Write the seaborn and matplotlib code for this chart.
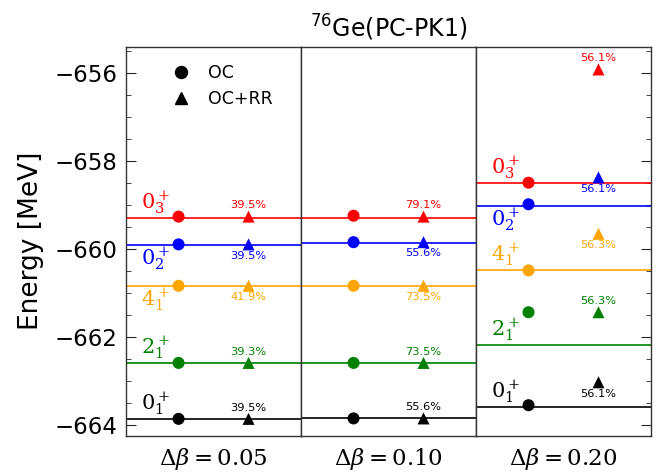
import pandas as pd
import seaborn as sns
import matplotlib.pyplot as plt
from matplotlib.lines import Line2D
from matplotlib.ticker import MultipleLocator

# data
delta_beta = ['0.05', '0.10', '0.20']
states = ['0_1', '2_1', '4_1', '0_2', '0_3']
state_labels = [r'$0_1^+$', r'$2_1^+$', r'$4_1^+$', r'$0_2^+$', r'$0_3^+$']
state_colors = ['black', 'green', 'orange', 'blue', 'red']

e_oc = [
    [-663.86, -662.59, -660.84, -659.90, -659.27],
    [-663.85, -662.59, -660.84, -659.85, -659.25],
    [-663.55, -661.44, -660.49, -658.99, -658.50],
]
e_rr = [
    [-663.86, -662.59, -660.84, -659.90, -659.27],
    [-663.85, -662.59, -660.84, -659.85, -659.27],
    [-663.03, -661.44, -659.66, -658.38, -655.93],
]
e_line = [
    [-663.86, -662.60, -660.85, -659.92, -659.31],
    [-663.85, -662.59, -660.85, -659.87, -659.31],
    [-663.59, -662.19, -660.49, -659.03, -658.50],
]
weights = [
    ['39.5%', '39.3%', '41.9%', '39.5%', '39.5%'],
    ['55.6%', '73.5%', '73.5%', '55.6%', '79.1%'],
    ['56.1%', '56.3%', '56.3%', '56.1%', '56.1%'],
]

# label placement (+1 above, -1 below)
pct_side = [
    [1, 1, -1, -1, 1],
    [1, 1, -1, -1, 1],
    [-1, 1, -1, -1, 1],
]
lab_side = {0: [1, 1, -1, -1, 1], 2: [1, 1, 1, -1, 1]}

x_oc, x_rr = 0.3, 0.7

sns.set_style('ticks')
plt.rcParams['mathtext.fontset'] = 'dejavuserif'
plt.rcParams['text.color'] = 'black'
plt.rcParams['axes.labelcolor'] = 'black'
palette = dict(zip(states, state_colors))

fig, axes = plt.subplots(1, 3, sharey=True, figsize=(6.67, 4.75), dpi=100)
fig.subplots_adjust(left=0.189, right=0.976, top=0.902, bottom=0.082, wspace=0)

for i, ax in enumerate(axes):
    df = pd.DataFrame({
        'x': [x_oc] * 5 + [x_rr] * 5,
        'E': e_oc[i] + e_rr[i],
        'state': states * 2,
        'method': ['OC'] * 5 + ['OC+RR'] * 5,
    })
    for j, st in enumerate(states):
        ax.axhline(e_line[i][j], color=state_colors[j], lw=1.2, zorder=1)
    sns.scatterplot(data=df, x='x', y='E', hue='state', palette=palette,
                    style='method', markers={'OC': 'o', 'OC+RR': '^'},
                    s=75, linewidth=0, legend=False, ax=ax, zorder=3)
    for j in range(5):
        side = pct_side[i][j]
        ax.annotate(weights[i][j], (x_rr, e_rr[i][j]), xytext=(0, 4.5 * side),
                    textcoords='offset points', ha='center',
                    va='bottom' if side > 0 else 'top',
                    fontsize=8.2, color=state_colors[j])
    if i in lab_side:
        for j in range(5):
            side = lab_side[i][j]
            ax.annotate(state_labels[j], (0.17, e_line[i][j]), xytext=(0, 0.8 * side),
                        textcoords='offset points', ha='center',
                        va='bottom' if side > 0 else 'top',
                        fontsize=15, color=state_colors[j])
    ax.set_xlim(0, 1)
    ax.set_xticks([])
    ax.set_xlabel(r'$\Delta\beta = ' + delta_beta[i] + '$', fontsize=16.5, labelpad=7)
    ax.set_ylabel('')
    for sp in ax.spines.values():
        sp.set_color('0.2')
        sp.set_linewidth(1.0)

ax1, ax2, ax3 = axes
ax1.set_ylim(-664.25, -655.41)
ax1.yaxis.set_major_locator(MultipleLocator(2))
ax1.yaxis.set_minor_locator(MultipleLocator(0.5))
ax1.tick_params(axis='y', which='both', direction='in', left=True, right=False,
                labelsize=16.5, pad=6, color='0.15', labelcolor='black')
ax1.tick_params(axis='y', which='major', length=7)
ax1.tick_params(axis='y', which='minor', length=3.5)
ax1.set_ylabel('Energy [MeV]', fontsize=19, labelpad=8)

ax2.tick_params(axis='y', which='both', left=False, right=False)

ax3.tick_params(axis='y', which='both', direction='in', left=False, right=True,
                labelleft=False, color='0.15')
ax3.tick_params(axis='y', which='major', length=7)
ax3.tick_params(axis='y', which='minor', length=3.5)

ax2.set_title(r'$^{76}$Ge(PC-PK1)', fontsize=17, math_fontfamily='dejavusans', pad=7)

handles = [
    Line2D([], [], marker='o', color='black', ls='none', markersize=8.6),
    Line2D([], [], marker='^', color='black', ls='none', markersize=8.6),
]
ax1.legend(handles, ['OC', 'OC+RR'], loc='upper left', bbox_to_anchor=(0.15, 0.995),
           frameon=False, fontsize=12.5, handlelength=1.5, handletextpad=0.8,
           labelspacing=0.45)

plt.savefig('out.png', dpi=100)
